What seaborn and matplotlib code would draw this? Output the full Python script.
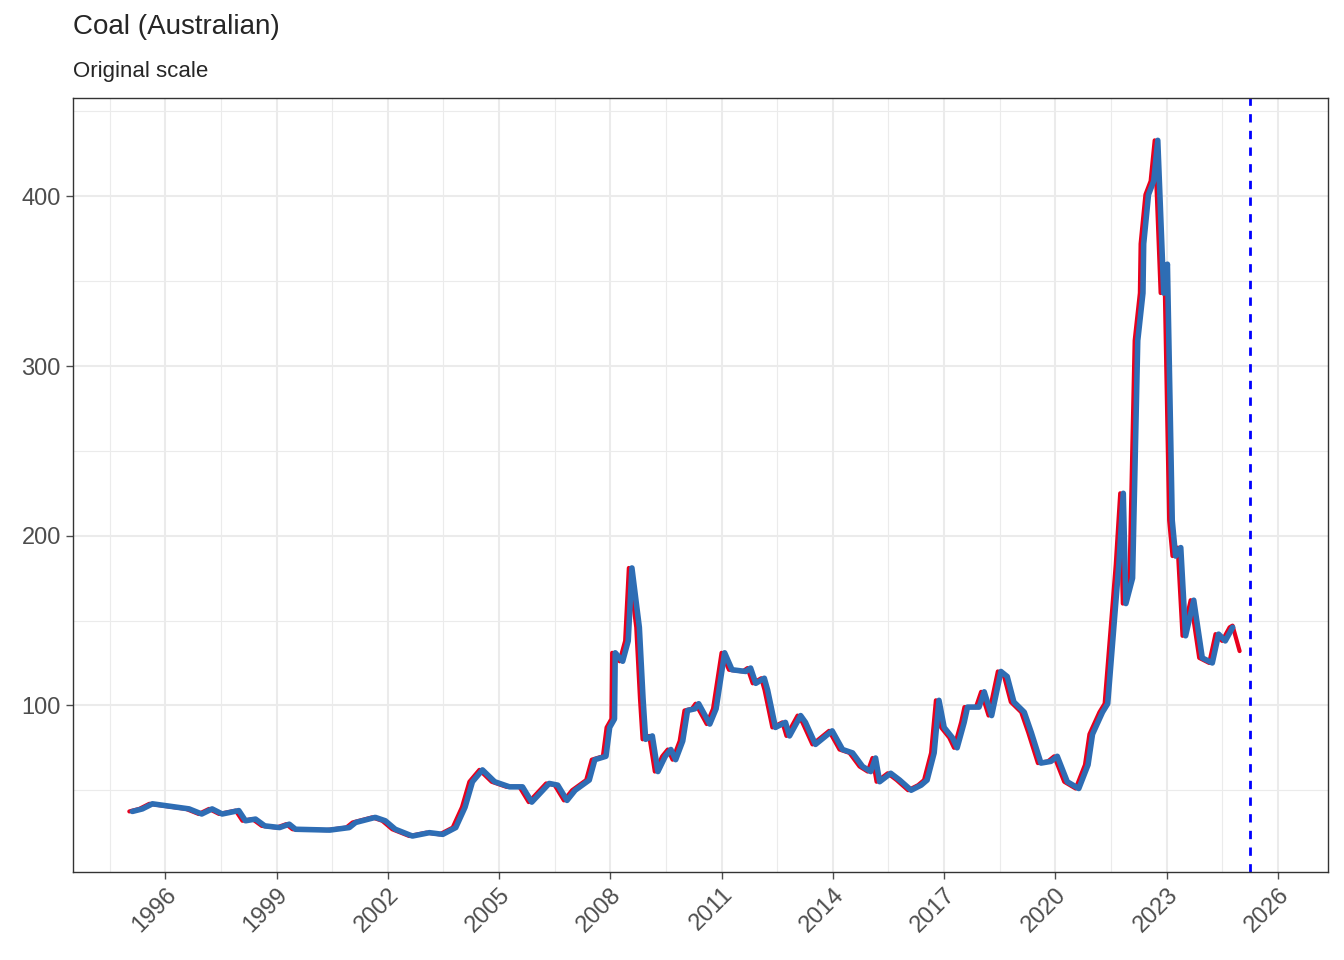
import matplotlib
matplotlib.use("Agg")
import matplotlib.pyplot as plt
import seaborn as sns
import numpy as np
import pandas as pd

# decimal year and price
years = [1995.03, 1995.3, 1995.57, 1995.9, 1996.56, 1996.9, 1997.18, 1997.45, 1997.9, 1998.08,
         1998.35, 1998.6, 1999.0, 1999.26, 1999.43, 2000.35, 2000.88, 2001.05, 2001.58, 2001.85,
         2002.12, 2002.58, 2003.04, 2003.4, 2003.75, 2004.0, 2004.2, 2004.47, 2004.8, 2005.2,
         2005.55, 2005.8, 2006.1, 2006.27, 2006.5, 2006.75, 2006.97, 2007.35, 2007.5, 2007.8,
         2007.9, 2008.03, 2008.05, 2008.25, 2008.4, 2008.5, 2008.7, 2008.8, 2008.87, 2009.05,
         2009.2, 2009.4, 2009.55, 2009.68, 2009.87, 2010.0, 2010.2, 2010.3, 2010.6, 2010.77,
         2011.0, 2011.2, 2011.57, 2011.7, 2011.84, 2012.07, 2012.16, 2012.37, 2012.64, 2012.75,
         2013.05, 2013.18, 2013.45, 2013.9, 2014.18, 2014.45, 2014.72, 2014.94, 2015.07, 2015.18,
         2015.48, 2015.72, 2016.03, 2016.3, 2016.46, 2016.65, 2016.78, 2016.92, 2017.14, 2017.27,
         2017.46, 2017.55, 2017.86, 2018.0, 2018.2, 2018.45, 2018.62, 2018.8, 2019.08, 2019.27,
         2019.53, 2019.8, 2019.97, 2020.24, 2020.55, 2020.8, 2020.92, 2021.19, 2021.33, 2021.63,
         2021.75, 2021.82, 2022.0, 2022.14, 2022.28, 2022.3, 2022.43, 2022.57, 2022.68, 2022.84,
         2022.94, 2023.07, 2023.16, 2023.3, 2023.43, 2023.65, 2023.88, 2024.15, 2024.32, 2024.5,
         2024.7, 2024.78, 2024.97]
price = [37.5, 39, 42, 41, 39, 36, 39, 36, 38, 32,
         33, 29, 28, 30, 27, 26.5, 28, 31, 34, 32,
         27, 23, 25, 24, 28, 40, 55, 62, 55, 52,
         52, 43, 50, 54, 53, 44, 50, 56, 68, 70,
         87, 92, 131, 126, 138, 181, 146, 104, 80, 82,
         61, 70, 74, 68, 79, 97, 98, 101, 89, 98,
         131, 121, 120, 122, 113, 116, 109, 87, 90, 82,
         94, 90, 77, 85, 74, 72, 64, 61, 69, 55,
         60, 56, 50, 53, 56, 72, 103, 87, 81, 75,
         90, 99, 99, 108, 94, 120, 117, 102, 96, 84,
         66, 67, 70, 55, 51, 65, 83, 96, 101, 183,
         225, 160, 175, 315, 343, 372, 401, 409, 433, 343,
         360, 209, 188, 193, 141, 162, 128, 125, 142, 138,
         146, 147, 132]
# fitted series follows the actual one, one month behind
fit_lag = 1 / 12
cutoff = 2025.24

actual = pd.DataFrame({"year": years, "value": price})
fitted = pd.DataFrame({"year": np.array(years[:-2]) + fit_lag, "value": price[:-2]})

sns.set_theme(style="white")
plt.rcParams["font.family"] = ["Liberation Sans", "DejaVu Sans"]

fig, ax = plt.subplots(figsize=(13.44, 9.6), dpi=100)
sns.lineplot(data=actual, x="year", y="value", color="#E8001C", linewidth=3, ax=ax)
sns.lineplot(data=fitted, x="year", y="value", color="#2E6DB4", linewidth=4, ax=ax)
ax.axvline(cutoff, color="blue", linestyle=(0, (3, 3)), linewidth=2)

ax.set_xlim(1993.5, 2027.35)
ax.set_ylim(2, 458)
ax.set_xticks(np.arange(1996, 2027, 3))
ax.set_xticks(np.arange(1994.5, 2027, 1.5), minor=True)
ax.set_yticks([100, 200, 300, 400])
ax.set_yticks([50, 150, 250, 350, 450], minor=True)
ax.grid(which="major", color="#EBEBEB", linewidth=1.5)
ax.grid(which="minor", color="#EBEBEB", linewidth=0.8)
ax.set_axisbelow(True)
for s in ax.spines.values():
    s.set_color("#333333")
    s.set_linewidth(1)
ax.tick_params(axis="both", which="major", labelsize=17, colors="#4D4D4D",
               length=5, width=1, bottom=True, left=True)
ax.tick_params(axis="x", labelrotation=45)
for lab in ax.get_xticklabels():
    lab.set_ha("right")
    lab.set_rotation_mode("anchor")
ax.set_xlabel("")
ax.set_ylabel("")

fig.subplots_adjust(left=0.054, right=0.988, top=0.898, bottom=0.092)
fig.text(0.054, 0.958, "Coal (Australian)", fontsize=20, ha="left", va="bottom")
fig.text(0.054, 0.915, "Original scale", fontsize=16, ha="left", va="bottom")
fig.savefig("out.png", dpi=100)
